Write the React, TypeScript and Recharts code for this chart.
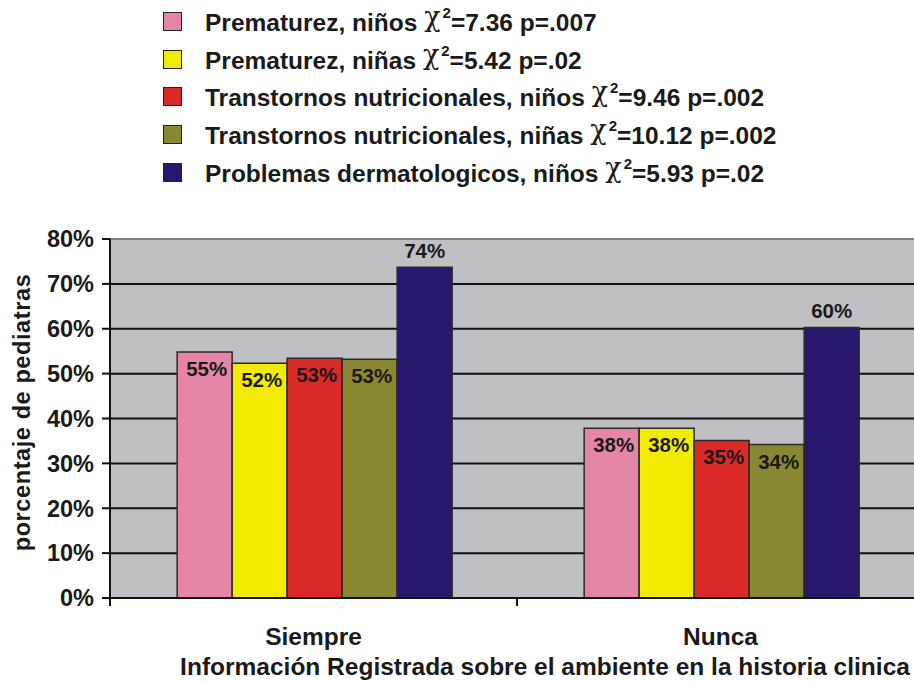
import React from 'react';
import { BarChart, Bar, XAxis, YAxis, CartesianGrid, Legend, LabelList, ReferenceLine } from 'recharts';

const categories = ['Siempre', 'Nunca'];
const seriesNames = [
  'Prematurez, niños',
  'Prematurez, niñas',
  'Transtornos nutricionales, niños',
  'Transtornos nutricionales, niñas',
  'Problemas dermatologicos, niños',
];
const chiValues = ['7.36', '5.42', '9.46', '10.12', '5.93'];
const pValues = ['.007', '.02', '.002', '.002', '.02'];
const prematurezNinos = [54.8, 37.8];
const prematurezNinas = [52.3, 37.8];
const nutricionalesNinos = [53.4, 35.1];
const nutricionalesNinas = [53.2, 34.2];
const dermatologicosNinos = [73.7, 60.3];
const yTicks = [0, 10, 20, 30, 40, 50, 60, 70, 80];
const gridValues = [10, 20, 30, 40, 50, 60, 70];
const colors = ['#e586a8', '#f2ea00', '#d92a27', '#898832', '#2a176d'];
const xTitle = 'Información Registrada sobre el ambiente en la historia clinica';
const yTitle = 'porcentaje de pediatras';

const seriesValues = [prematurezNinos, prematurezNinas, nutricionalesNinos, nutricionalesNinas, dermatologicosNinos];
const keys = ['s0', 's1', 's2', 's3', 's4'];
const data = categories.map((c, i) => {
  const row: any = { category: c };
  keys.forEach((k, j) => (row[k] = seriesValues[j][i]));
  return row;
});

const FONT = '"Liberation Sans", Arial, Helvetica, sans-serif';
const TEXT = '#1a1a1a';

const InsideLabel = (props: any) => {
  const { x, y, width, value } = props;
  return (
    <text x={x + width / 2 + 2} y={y + 24} textAnchor="middle" fontFamily={FONT} fontWeight="bold" fontSize={20.5} fill={TEXT}>
      {`${Math.round(value)}%`}
    </text>
  );
};

const TopLabel = (props: any) => {
  const { x, y, width, value } = props;
  return (
    <text x={x + width / 2} y={y - 9} textAnchor="middle" fontFamily={FONT} fontWeight="bold" fontSize={20.5} fill={TEXT}>
      {`${Math.round(value)}%`}
    </text>
  );
};

const CategoryTick = (props: any) => {
  const { x, y, payload, index, visibleTicksCount } = props;
  const half = payload && payload.offset ? payload.offset : 0;
  const isLast = index === visibleTicksCount - 1;
  return (
    <g>
      <line x1={x - half} x2={x - half} y1={y - 8} y2={y} stroke="#111" strokeWidth={2} />
      {isLast && <line x1={x + half} x2={x + half} y1={y - 8} y2={y} stroke="#111" strokeWidth={2} />}
      <text x={x} y={y + 39} textAnchor="middle" fontFamily={FONT} fontWeight="bold" fontSize={24.5} fill={TEXT}>
        {payload.value}
      </text>
    </g>
  );
};

const XTitle = (props: any) => {
  const vb = props.viewBox || {};
  return (
    <text x={vb.x + vb.width / 2 + 28} y={vb.y + 77} textAnchor="middle" fontFamily={FONT} fontWeight="bold" fontSize={24.5} fill={TEXT}>
      {xTitle}
    </text>
  );
};

const YTitle = (props: any) => {
  const vb = props.viewBox || {};
  const cx = vb.x + 22;
  const cy = vb.y + vb.height / 2 - 6;
  return (
    <text x={cx} y={cy} transform={`rotate(-90 ${cx} ${cy})`} textAnchor="middle" dominantBaseline="central" fontFamily={FONT} fontWeight="bold" fontSize={23.5} letterSpacing={0.6} fill={TEXT}>
      {yTitle}
    </text>
  );
};

const LegendContent = () => (
  <div style={{ fontFamily: FONT, fontWeight: 'bold', fontSize: 24.5, color: TEXT }}>
    {seriesNames.map((n, i) => (
      <div key={n} style={{ display: 'flex', alignItems: 'center', height: 37.6, whiteSpace: 'nowrap' }}>
        <span style={{ display: 'inline-block', width: 19, height: 19, background: colors[i], border: '1.5px solid #222', boxSizing: 'border-box', marginRight: 23 }} />
        <span>
          {n}{' '}
          <span style={{ fontFamily: '"DejaVu Serif", serif', fontWeight: 'normal', fontSize: 27, position: 'relative', top: -5 }}>χ</span>
          <span style={{ fontSize: 15, position: 'relative', top: -13, marginLeft: 2 }}>2</span>
          {`=${chiValues[i]} p=${pValues[i]}`}
        </span>
      </div>
    ))}
  </div>
);

export default function App() {
  return (
    <div style={{ position: 'fixed', left: 0, top: 0, width: 914, height: 682, overflow: 'hidden', background: '#fff' }}>
      <BarChart width={940} height={682} data={data} margin={{ top: 239, right: 16, bottom: 44, left: 0 }} barCategoryGap="16.5%" barGap={0}>
        <CartesianGrid vertical={false} horizontalValues={gridValues} stroke="#111" strokeWidth={2} fill="#c0c0c4" />
        <ReferenceLine y={80} stroke="#7d7f80" strokeWidth={2} />
        <XAxis dataKey="category" height={40} axisLine={{ stroke: '#111', strokeWidth: 2 }} tickLine={false} tickSize={8} tickMargin={0} tick={<CategoryTick />} interval={0} label={<XTitle />} />
        <YAxis width={110} domain={[0, 80]} ticks={yTicks} interval={0} tickFormatter={(v: number) => `${v}%`} axisLine={{ stroke: '#111', strokeWidth: 2 }} tickLine={{ stroke: '#111', strokeWidth: 2 }} tickSize={8} tickMargin={8} tick={{ fill: TEXT, fontSize: 23.5, fontWeight: 'bold', fontFamily: FONT }} label={<YTitle />} />
        <Legend layout="vertical" verticalAlign="middle" align="center" wrapperStyle={{ top: 3, left: 163 }} content={<LegendContent />} />
        {keys.map((k, i) => (
          <Bar key={k} dataKey={k} name={seriesNames[i]} fill={colors[i]} stroke="#2a2a2a" strokeWidth={1.5} isAnimationActive={false}>
            <LabelList dataKey={k} content={i === 4 ? <TopLabel /> : <InsideLabel />} />
          </Bar>
        ))}
      </BarChart>
    </div>
  );
}
